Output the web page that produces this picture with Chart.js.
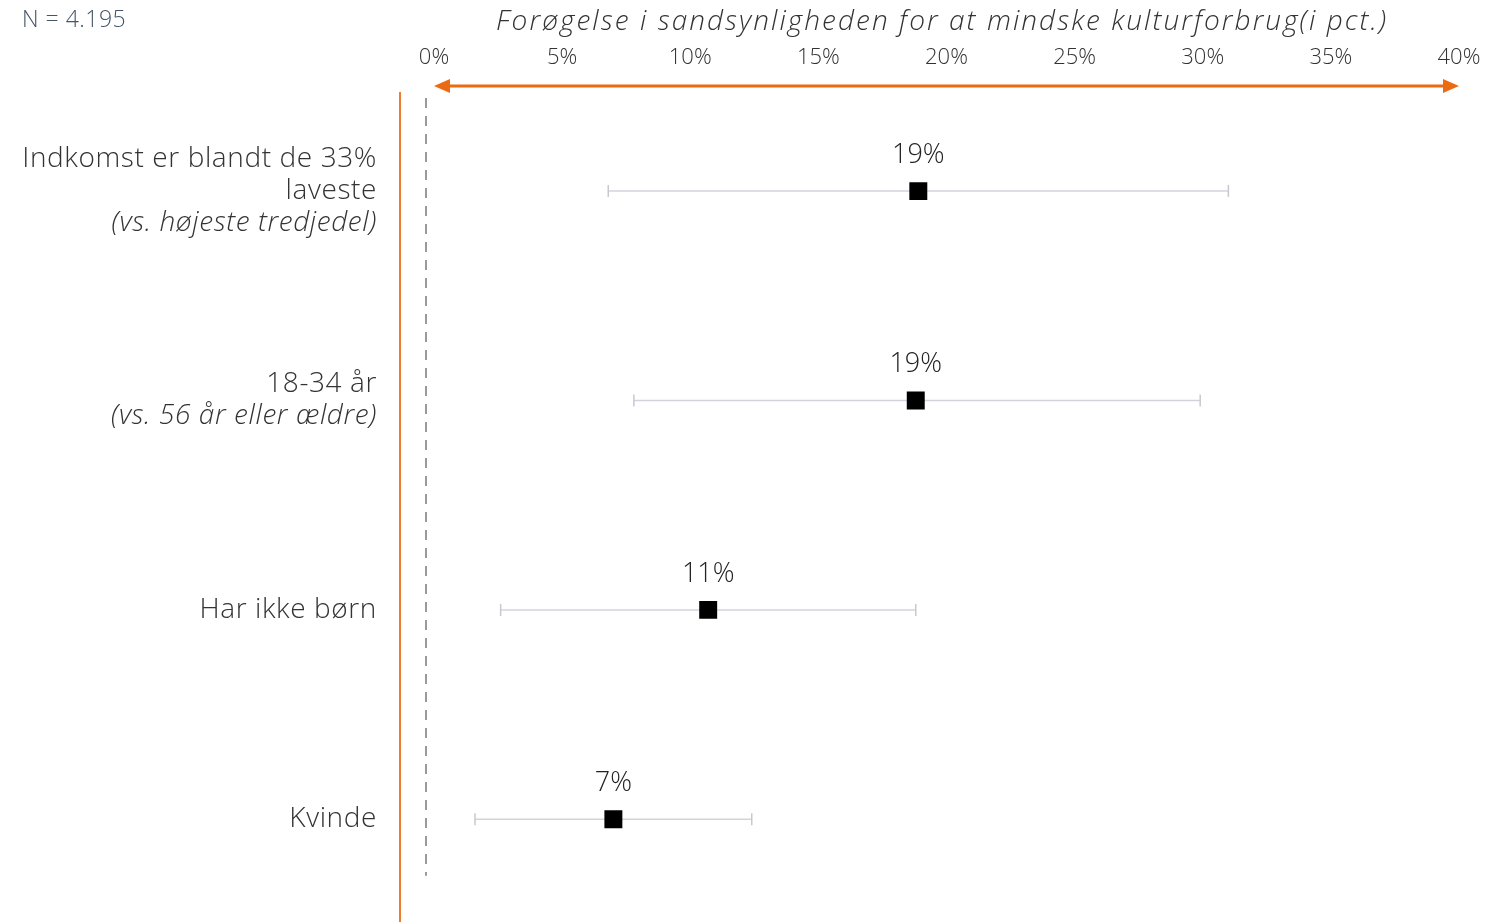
<!DOCTYPE html>
<html>
<head>
<meta charset="utf-8">
<script src="https://cdn.jsdelivr.net/npm/chart.js@4.4.1/dist/chart.umd.min.js"></script>
<style>
  html, body { margin: 0; padding: 0; background: #fff; }
  #wrap { width: 1504px; height: 922px; }
</style>
</head>
<body>
<div id="wrap"><canvas id="chart" width="1504" height="922"></canvas></div>
<script>
// data
const sampleNote = "N = 4.195";
const axisTitle = "Forøgelse i sandsynligheden for at mindske kulturforbrug(i pct.)";
const categoryLines = [["Indkomst er blandt de 33%", "laveste"], ["18-34 år"], ["Har ikke børn"], ["Kvinde"]];
const comparisonNotes = ["(vs. højeste tredjedel)", "(vs. 56 år eller ældre)", "", ""];
const estimates = [18.9, 18.8, 10.7, 7.0];
const ciLow = [6.8, 7.8, 2.6, 1.6];
const ciHigh = [31.0, 29.9, 18.8, 12.4];
const xTicks = [0, 5, 10, 15, 20, 25, 30, 35, 40];

const FONT = "'Open Sans', 'Noto Sans', sans-serif";
const ORANGE = "#EC6A12";

// error bars: one small line dataset per row
var errorSets = estimates.map(function(v, i) {
  return {
    type: 'scatter',
    showLine: true,
    data: [{x: ciLow[i], y: i}, {x: ciHigh[i], y: i}],
    borderColor: '#D3D3DD',
    borderWidth: 1.5,
    pointStyle: 'line',
    rotation: 90,
    pointRadius: 6,
    pointBorderColor: '#C8C8D2',
    pointBorderWidth: 1.5,
    order: 2
  };
});

var pointSet = {
  type: 'scatter',
  data: estimates.map(function(v, i) { return {x: v, y: i}; }),
  pointStyle: 'rect',
  pointRadius: 12.7,
  backgroundColor: '#000',
  borderColor: '#000',
  borderWidth: 0,
  order: 1
};

var decor = {
  id: 'decor',
  beforeDatasetsDraw: function(chart) {
    var ctx = chart.ctx, x = chart.scales.x, y = chart.scales.y, area = chart.chartArea;
    ctx.save();
    // dashed zero line
    ctx.strokeStyle = '#9A9A9A';
    ctx.lineWidth = 2;
    ctx.setLineDash([10, 8]);
    ctx.beginPath();
    ctx.moveTo(x.getPixelForValue(0) - 8, area.top + 12);
    ctx.lineTo(x.getPixelForValue(0) - 8, y.getPixelForValue(3.27));
    ctx.stroke();
    ctx.restore();
  },
  afterDraw: function(chart) {
    var ctx = chart.ctx, x = chart.scales.x, y = chart.scales.y, area = chart.chartArea;
    ctx.save();
    ctx.textBaseline = 'middle';

    // N label
    ctx.fillStyle = '#44546A';
    ctx.font = '300 23px ' + FONT;
    ctx.textAlign = 'left';
    ctx.letterSpacing = '0.5px';
    ctx.fillText(sampleNote, 22, 20);

    // axis title, stretched to the width of the original lettering
    ctx.fillStyle = '#333';
    ctx.font = 'italic 300 28px ' + FONT;
    ctx.letterSpacing = '0px';
    var w = ctx.measureText(axisTitle).width;
    ctx.letterSpacing = ((890 - w) / (axisTitle.length - 1)).toFixed(2) + 'px';
    ctx.textAlign = 'left';
    ctx.fillText(axisTitle, 496, 22);
    ctx.letterSpacing = '0px';

    // orange vertical line
    ctx.strokeStyle = '#ED7D31';
    ctx.lineWidth = 2;
    ctx.beginPath();
    ctx.moveTo(400, area.top + 6);
    ctx.lineTo(400, chart.height);
    ctx.stroke();

    // double arrow
    var x0 = x.getPixelForValue(0), x1 = x.getPixelForValue(40), ay = area.top;
    ctx.strokeStyle = ORANGE;
    ctx.fillStyle = ORANGE;
    ctx.lineWidth = 3;
    ctx.beginPath();
    ctx.moveTo(x0 + 10, ay);
    ctx.lineTo(x1 - 10, ay);
    ctx.stroke();
    ctx.beginPath();
    ctx.moveTo(x0, ay); ctx.lineTo(x0 + 16, ay - 7); ctx.lineTo(x0 + 16, ay + 7); ctx.closePath();
    ctx.fill();
    ctx.beginPath();
    ctx.moveTo(x1, ay); ctx.lineTo(x1 - 16, ay - 7); ctx.lineTo(x1 - 16, ay + 7); ctx.closePath();
    ctx.fill();

    // category labels
    ctx.textAlign = 'right';
    ctx.fillStyle = '#333';
    ctx.letterSpacing = '0.6px';
    var lh = 32;
    categoryLines.forEach(function(lines, i) {
      var all = lines.slice();
      if (comparisonNotes[i]) all.push(comparisonNotes[i]);
      var cy = y.getPixelForValue(i);
      var start = cy - (all.length - 1) * lh / 2;
      all.forEach(function(t, k) {
        var italic = k >= lines.length;
        ctx.font = (italic ? 'italic ' : '') + '300 28px ' + FONT;
        ctx.fillText(t, 377, start + k * lh);
      });
    });
    ctx.letterSpacing = '0px';

    // value labels above points
    var meta = chart.getDatasetMeta(chart.data.datasets.length - 1);
    ctx.textAlign = 'center';
    ctx.fillStyle = '#222';
    ctx.font = '300 27px ' + FONT;
    meta.data.forEach(function(p, i) {
      ctx.fillText(Math.round(estimates[i]) + '%', p.x, p.y - 36);
    });
    ctx.restore();
  }
};

new Chart(document.getElementById('chart'), {
  type: 'scatter',
  data: { datasets: errorSets.concat([pointSet]) },
  options: {
    responsive: false,
    animation: false,
    events: [],
    layout: { padding: { left: 434, right: 45, top: 0, bottom: 5 } },
    plugins: { legend: { display: false }, tooltip: { enabled: false } },
    scales: {
      x: {
        position: 'top',
        min: 0,
        max: 40,
        afterBuildTicks: function(s) { s.ticks = xTicks.map(function(v) { return {value: v}; }); },
        afterFit: function(s) { s.height = 86; },
        grid: { display: false, drawTicks: false },
        border: { display: false },
        ticks: {
          padding: 15,
          color: '#333',
          font: { family: FONT, size: 22, weight: '300' },
          callback: function(v) { return v + '%'; }
        },
        title: { display: false }
      },
      y: {
        display: false,
        reverse: true,
        min: -0.502,
        max: 3.43
      }
    }
  },
  plugins: [decor]
});
</script>
</body>
</html>
